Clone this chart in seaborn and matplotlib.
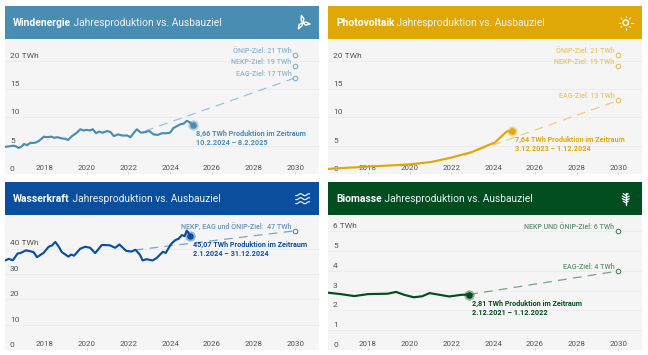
import numpy as np
import matplotlib
matplotlib.use("Agg")
import matplotlib.pyplot as plt
from matplotlib.transforms import ScaledTranslation
import seaborn as sns

sns.set_theme(style="white")
plt.rcParams['font.family'] = ['Roboto', 'DejaVu Sans']

WIND_YEARS = [2016.1,2016.3,2016.5,2016.6,2016.75,2016.9,2017.0,2017.15,2017.3,2017.5,2017.65,2017.8,2017.95,2018.1,2018.3,2018.45,2018.6,2018.8,2019.0,2019.1,2019.3,2019.5,2019.7,2019.85,2020.0,2020.15,2020.3,2020.45,2020.6,2020.75,2021.0,2021.15,2021.3,2021.5,2021.7,2021.95,2022.1,2022.2,2022.4,2022.6,2022.8,2023.0,2023.2,2023.4,2023.6,2023.8,2024.0,2024.15,2024.3,2024.5,2024.65,2024.8,2024.95,2025.1]
WIND_VALS  = [4.8,4.9,5.0,4.9,4.6,4.9,5.3,5.1,5.5,5.5,5.7,6.1,6.6,6.5,6.6,6.4,6.5,6.3,6.2,6.0,6.7,7.2,7.9,7.7,7.8,7.7,7.9,7.2,7.5,7.3,7.6,7.4,6.7,7.0,6.8,6.8,6.5,7.0,7.9,7.3,7.4,7.6,7.0,6.9,7.2,7.2,7.3,8.1,8.4,8.8,8.9,9.4,9.1,8.66]
WIND_TARGET_YEARS = [2022.8, 2030]
WIND_TARGET_VALS = [7.6, 17]

PV_YEARS = [2016.1,2017,2018,2019,2020,2021,2021.5,2022,2022.5,2023,2023.5,2024.1,2024.35,2024.65,2024.9]
PV_VALS  = [0.9,1.1,1.3,1.5,1.7,2.1,2.5,2.9,3.4,3.9,4.7,5.6,6.5,7.5,7.64]
PV_TARGET_YEARS = [2022.6, 2030]
PV_TARGET_VALS = [3.3, 13]

HYDRO_YEARS = [2016.1,2016.26,2016.47,2016.69,2016.85,2017.1,2017.46,2017.62,2017.94,2018.18,2018.34,2018.5,2018.65,2018.81,2019.13,2019.25,2019.4,2019.69,2019.93,2020.17,2020.41,2020.73,2021.1,2021.37,2021.57,2021.89,2022.14,2022.34,2022.55,2022.68,2022.87,2023.16,2023.36,2023.65,2023.79,2024.03,2024.24,2024.4,2024.56,2024.69,2024.8,2024.96]
HYDRO_VALS  = [35.3,35.9,35.4,38.0,38.3,39.3,38.6,36.6,38.3,40.7,41.2,42.6,40.9,38.6,36.8,37.6,37.2,39.9,40.7,40.3,38.2,41.4,41.3,40.3,41.6,39.1,38.8,39.5,37.6,35.3,35.8,35.3,36.3,38.7,38.3,41.6,43.3,43.8,45.3,44.9,47.1,45.07]
HYDRO_TARGET_YEARS = [2022.3, 2030]
HYDRO_TARGET_VALS = [39.4, 47]

BIO_YEARS = [2016.1,2016.7,2017.35,2018,2018.95,2019.35,2019.75,2020.2,2020.6,2020.95,2021.35,2021.9,2022.45,2022.85]
BIO_VALS  = [2.9,2.83,2.73,2.83,2.85,2.94,2.79,2.67,2.72,2.88,2.81,2.71,2.79,2.81]
BIO_TARGET_YEARS = [2022.85, 2030]
BIO_TARGET_VALS = [2.81, 4]

WIND_GOALS = [21, 19, 17]
WIND_GOAL_LABELS = ["ÖNIP-Ziel: 21 TWh", "NEKP-Ziel: 19 TWh", "EAG-Ziel: 17 TWh"]
PV_GOALS = [21, 19, 13]
PV_GOAL_LABELS = ["ÖNIP-Ziel: 21 TWh", "NEKP-Ziel: 19 TWh", "EAG-Ziel: 13 TWh"]
HYDRO_GOALS = [47]
HYDRO_GOAL_LABELS = ["NEKP, EAG und ÖNIP-Ziel:  47 TWh"]
BIO_GOALS = [6, 4]
BIO_GOAL_LABELS = ["NEKP UND ÖNIP-Ziel: 6 TWh", "EAG-Ziel: 4 TWh"]

X_TICKS = [2018, 2020, 2022, 2024, 2026, 2028, 2030]
W, H = 648, 355
TXT = "#555555"


def panel(x0, y0, name, color, years, vals, t_years, t_vals, goals, goal_labels,
          yticks, ymax, now_text, period, icon):
    hdr = fig.add_axes([x0 / W, 1 - (y0 + 33.3) / H, 314 / W, 33.3 / H])
    hdr.set_facecolor(color)
    hdr.set_xlim(0, 314); hdr.set_ylim(33.3, 0)
    hdr.set_xticks([]); hdr.set_yticks([])
    for s in hdr.spines.values():
        s.set_visible(False)
    t = hdr.text(8, 17.2, name, color="white", fontsize=7.4, fontweight="bold", va="center", ha="left")
    hdr.annotate(" Jahresproduktion vs. Ausbauziel", xy=(1, 0.5), xycoords=t, color="#f2f2f2",
                 fontsize=7.4, va="center", ha="left")
    icon(hdr, 297.7, 16.7)

    ax = fig.add_axes([x0 / W, 1 - (y0 + 168) / H, 314 / W, 134.7 / H])
    ax.set_facecolor("#f5f5f5")
    sns.lineplot(x=years, y=vals, ax=ax, color=color, lw=1.55, estimator=None, errorbar=None, zorder=4)
    sns.lineplot(x=t_years, y=t_vals, ax=ax, color=color, lw=0.9, alpha=0.5, estimator=None, errorbar=None,
                 dashes=False, zorder=3).lines[-1].set_linestyle((0, (7, 5)))
    ax.set_xlim(2016.09, 2031.13)
    ax.set_ylim(0, ymax)
    ax.set_xlabel(""); ax.set_ylabel("")
    ax.set_xticks(X_TICKS)
    ax.set_xticklabels([str(v) for v in X_TICKS], fontsize=5.7, color=TXT, va="bottom")
    ax.tick_params(axis="x", direction="in", length=1.5, width=0.5, color="#bbbbbb", pad=-2.2, bottom=True)
    ax.set_yticks(yticks)
    ax.set_yticklabels([str(v) if v != yticks[-1] else f"{v} TWh" for v in yticks], fontsize=6.0, color=TXT)
    ax.tick_params(axis="y", length=0, pad=-3.6)
    shift = ScaledTranslation(0, 1.5 / 72, fig.dpi_scale_trans)
    for lab in ax.get_yticklabels():
        lab.set_ha("left"); lab.set_va("bottom")
        lab.set_transform(lab.get_transform() + shift)
    ax.grid(axis="y", color="#ebebeb", lw=0.6)
    ax.set_axisbelow(True)
    for s in ax.spines.values():
        s.set_visible(False)

    ax.scatter([years[-1]], [vals[-1]], s=55, color=color, alpha=0.4, linewidths=0, zorder=5, clip_on=False)
    ax.scatter([years[-1]], [vals[-1]], s=22, color=color, linewidths=0, zorder=6)
    ax.annotate(f"{now_text} TWh Produktion im Zeitraum\n{period}", xy=(years[-1], vals[-1]),
                xytext=(3.3, -4.8), textcoords="offset pixels", color=color, fontsize=5.2,
                fontweight="bold", va="top", ha="left", linespacing=1.22, zorder=7)
    for g, lab in zip(goals, goal_labels):
        ax.scatter([2030], [g], s=11, facecolor="#f5f5f5", edgecolor=color, alpha=0.75, linewidths=0.7, zorder=5)
        ax.annotate(lab, xy=(2030, g), xytext=(-4, 4.2), textcoords="offset pixels", color=color, alpha=0.6,
                    fontsize=5.1, fontweight="medium", ha="right", va="center", zorder=7)
    return ax


def turbine(a, cx, cy):
    for ang in (-100, 10, 125):
        r = np.radians(ang)
        d = np.array([np.cos(r), np.sin(r)]); n = np.array([-d[1], d[0]])
        a.plot([cx, cx + 3.5 * d[0] + 1.9 * n[0], cx + 7.5 * d[0], cx + 3 * d[0] - 1.2 * n[0], cx],
               [cy, cy + 3.5 * d[1] + 1.9 * n[1], cy + 7.5 * d[1], cy + 3 * d[1] - 1.2 * n[1], cy],
               color="white", lw=1.0)


def sun(a, cx, cy):
    a.scatter([cx], [cy], s=16, facecolor="none", edgecolor="white", linewidths=1.0)
    for ang in range(0, 360, 45):
        r = np.radians(ang)
        a.plot([cx + 5.4 * np.cos(r), cx + 6.8 * np.cos(r)], [cy + 5.4 * np.sin(r), cy + 6.8 * np.sin(r)],
               color="white", lw=0.7)


def waves(a, cx, cy):
    xs = np.linspace(cx - 7, cx + 7, 40)
    for dy in (-4, 0, 4):
        a.plot(xs, cy + dy + 1.0 * np.sin((xs - cx) * 0.75), color="white", lw=0.8)


def tree(a, cx, cy):
    a.plot([cx, cx], [cy - 6, cy + 6], color="white", lw=1.0)
    for dy, w in ((-3.5, 2.5), (-1, 3.5), (1.5, 3.5), (4, 2.5)):
        a.plot([cx - w, cx, cx + w], [dy + cy - 1.5, dy + cy, dy + cy - 1.5], color="white", lw=0.9)


fig = plt.figure(figsize=(W / 100, H / 100), dpi=100, facecolor="white")

panel(5, 6, "Windenergie", "#4a8db3", WIND_YEARS, WIND_VALS, WIND_TARGET_YEARS, WIND_TARGET_VALS,
      WIND_GOALS, WIND_GOAL_LABELS, [0, 5, 10, 15, 20], 23.8, "8,66", "10.2.2024 – 8.2.2025", turbine)
panel(328, 6, "Photovoltaik", "#e0a806", PV_YEARS, PV_VALS, PV_TARGET_YEARS, PV_TARGET_VALS,
      PV_GOALS, PV_GOAL_LABELS, [0, 5, 10, 15, 20], 23.8, "7,64", "3.12.2023 – 1.12.2024", sun)
panel(5, 182, "Wasserkraft", "#0a4f9e", HYDRO_YEARS, HYDRO_VALS, HYDRO_TARGET_YEARS, HYDRO_TARGET_VALS,
      HYDRO_GOALS, HYDRO_GOAL_LABELS, [0, 10, 20, 30, 40], 53.1, "45,07", "2.1.2024 – 31.12.2024", waves)
panel(328, 182, "Biomasse", "#004d20", BIO_YEARS, BIO_VALS, BIO_TARGET_YEARS, BIO_TARGET_VALS,
      BIO_GOALS, BIO_GOAL_LABELS, [0, 1, 2, 3, 4, 5, 6], 6.82, "2,81", "2.12.2021 – 1.12.2022", tree)

fig.savefig("out.png", dpi=100, facecolor="white")
